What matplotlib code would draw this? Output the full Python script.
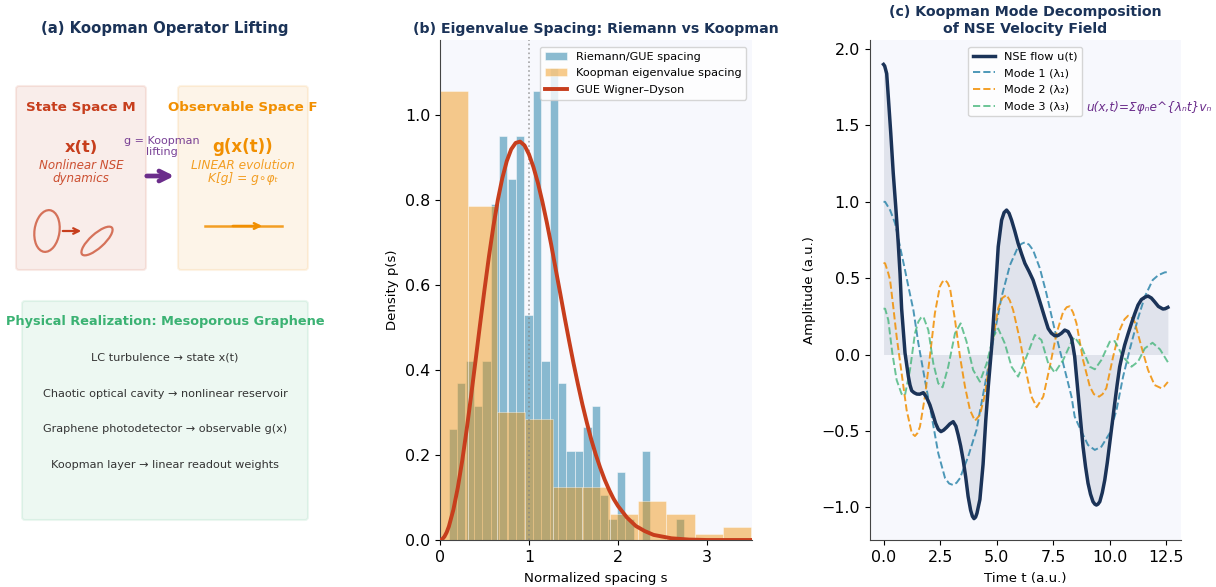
#!/usr/bin/env python3
import matplotlib
matplotlib.use('Agg')
import matplotlib.pyplot as plt
from matplotlib.patches import Ellipse, FancyBboxPatch

# (b) histograms
riemann_left = [0.098, 0.192, 0.287, 0.381, 0.476, 0.570, 0.664, 0.759, 0.853, 0.948,
                1.042, 1.136, 1.231, 1.325, 1.420, 1.514, 1.608, 1.703, 1.797, 1.892,
                1.986, 2.080, 2.175, 2.269, 2.364, 2.458, 2.552, 2.647]
riemann_density = [0.26, 0.37, 0.42, 0.315, 0.42, 0.79, 0.95, 0.85, 0.95, 0.53,
                   1.055, 0.42, 1.11, 0.37, 0.21, 0.21, 0.265, 0.315, 0.105, 0.05,
                   0.16, 0.05, 0.0, 0.21, 0.0, 0.0, 0.0, 0.05]
koopman_left = [0.0, 0.318, 0.636, 0.954, 1.272, 1.590, 1.908, 2.226, 2.544, 2.862, 3.180]
koopman_density = [1.055, 0.785, 0.30, 0.285, 0.125, 0.125, 0.06, 0.092, 0.06, 0.013, 0.03]

gue_s = [0, 0.025, 0.05, 0.075, 0.1, 0.15, 0.2, 0.25, 0.3, 0.35, 0.4, 0.45, 0.5, 0.55, 0.6, 0.65, 0.7,
         0.75, 0.8, 0.85, 0.9, 0.95, 1.0, 1.05, 1.1, 1.15, 1.2, 1.25, 1.3, 1.35, 1.4, 1.45, 1.5, 1.55,
         1.6, 1.65, 1.7, 1.75, 1.8, 1.85, 1.9, 1.95, 2.0, 2.1, 2.2, 2.3, 2.4, 2.6, 2.8, 3.0, 3.5]
gue_p = [0, 0.002, 0.008, 0.018, 0.032, 0.071, 0.123, 0.187, 0.260, 0.340, 0.423, 0.507, 0.589, 0.667,
         0.738, 0.800, 0.851, 0.891, 0.919, 0.934, 0.937, 0.928, 0.907, 0.877, 0.840, 0.796, 0.747,
         0.694, 0.637, 0.581, 0.524, 0.469, 0.416, 0.366, 0.319, 0.276, 0.236, 0.201, 0.170, 0.142,
         0.118, 0.097, 0.080, 0.053, 0.033, 0.021, 0.012, 0.004, 0.001, 0.0, 0.0]

# (c) curves
u_t = [0, 0.05, 0.14, 0.21, 0.32, 0.43, 0.54, 0.65, 0.73, 0.8, 0.95, 1.1, 1.17, 1.245, 1.35, 1.47, 1.6, 1.76,
       1.9, 2.05, 2.18, 2.3, 2.42, 2.54, 2.66, 2.79, 2.93, 3.08, 3.2, 3.3, 3.41, 3.52, 3.63, 3.74, 3.85,
       3.93, 4.0, 4.07, 4.13, 4.26, 4.4, 4.52, 4.63, 4.78, 4.92, 5.0, 5.07, 5.15, 5.22, 5.33, 5.44, 5.55,
       5.66, 5.8, 5.95, 6.1, 6.25, 6.43, 6.61, 6.8, 6.98, 7.13, 7.28, 7.42, 7.57, 7.72, 7.87, 8.01, 8.16,
       8.31, 8.38, 8.45, 8.6, 8.71, 8.82, 8.93, 9.04, 9.15, 9.26, 9.34, 9.41, 9.48, 9.56, 9.67, 9.78, 9.89,
       10.0, 10.11, 10.22, 10.33, 10.44, 10.55, 10.66, 10.81, 10.96, 11.1, 11.25, 11.4, 11.55, 11.69, 11.84,
       11.98, 12.15, 12.35, 12.45, 12.57]
u_vals = [1.9, 1.89, 1.84, 1.69, 1.45, 1.187, 0.968, 0.73, 0.53, 0.3, 0.01, -0.145, -0.2, -0.237, -0.25, -0.259,
          -0.26, -0.25, -0.28, -0.33, -0.39, -0.45, -0.49, -0.505, -0.495, -0.477, -0.455, -0.44, -0.47,
          -0.527, -0.6, -0.69, -0.8, -0.93, -1.02, -1.06, -1.075, -1.065, -1.04, -0.95, -0.72, -0.43, -0.21,
          0.05, 0.357, 0.54, 0.706, 0.8, 0.88, 0.93, 0.946, 0.925, 0.88, 0.81, 0.728, 0.66, 0.597, 0.545, 0.488,
          0.4, 0.313, 0.24, 0.17, 0.14, 0.123, 0.125, 0.14, 0.16, 0.15, 0.106, 0.051, -0.014, -0.254, -0.43,
          -0.604, -0.735, -0.843, -0.915, -0.964, -0.98, -0.986, -0.98, -0.964, -0.905, -0.822, -0.71, -0.58,
          -0.45, -0.32, -0.195, -0.08, -0.005, 0.062, 0.135, 0.204, 0.265, 0.324, 0.36, 0.375, 0.383, 0.37,
          0.346, 0.315, 0.298, 0.3, 0.309]

mode1_t = [0, 0.07, 0.29, 0.51, 0.73, 0.95, 1.1, 1.32, 1.54, 1.83, 2.13, 2.42, 2.72, 2.9, 3.08, 3.23, 3.38, 3.74,
           4.11, 4.48, 4.85, 5.22, 5.59, 5.95, 6.1, 6.25, 6.43, 6.61, 6.91, 7.2, 7.57, 7.94, 8.31, 8.45, 8.75,
           9.04, 9.34, 9.63, 10.0, 10.3, 10.59, 10.88, 11.25, 11.55, 11.9, 12.15, 12.43, 12.57]
mode1_vals = [1.0, 1.0, 0.946, 0.86, 0.706, 0.553, 0.444, 0.291, 0.073, -0.167, -0.407, -0.647, -0.81, -0.845,
              -0.855, -0.84, -0.81, -0.669, -0.494, -0.2, 0.095, 0.379, 0.586, 0.706, 0.725, 0.735, 0.72, 0.684,
              0.565, 0.4, 0.16, -0.058, -0.276, -0.407, -0.505, -0.593, -0.625, -0.604, -0.515, -0.363, -0.145,
              0.03, 0.237, 0.379, 0.488, 0.52, 0.538, 0.54]

mode2_t = [0, 0.07, 0.21, 0.29, 0.43, 0.58, 0.8, 1.02, 1.25, 1.39, 1.5, 1.61, 1.83, 2.05, 2.27, 2.49, 2.6, 2.72, 2.83,
           2.94, 3.16, 3.38, 3.6, 3.82, 4.04, 4.26, 4.48, 4.78, 5.07, 5.25, 5.44, 5.58, 5.73, 6.03, 6.25, 6.54, 6.77,
           7.06, 7.35, 7.65, 7.94, 8.1, 8.23, 8.38, 8.53, 8.82, 9.12, 9.3, 9.53, 9.68, 9.85, 10.15, 10.44, 10.65, 10.81,
           10.95, 11.1, 11.4, 11.69, 11.98, 12.28, 12.4, 12.57]
mode2_vals = [0.6, 0.597, 0.532, 0.488, 0.313, 0.117, -0.123, -0.363, -0.516, -0.534, -0.515, -0.473, -0.276, -0.014,
              0.27, 0.444, 0.475, 0.488, 0.47, 0.433, 0.226, -0.014, -0.21, -0.363, -0.434, -0.396, -0.265, 0.05, 0.303,
              0.37, 0.39, 0.355, 0.291, 0.095, -0.08, -0.276, -0.345, -0.276, -0.08, 0.139, 0.28, 0.31, 0.316, 0.275,
              0.204, -0.036, -0.21, -0.26, -0.276, -0.26, -0.22, -0.014, 0.16, 0.23, 0.254, 0.245, 0.215, 0.051, -0.1,
              -0.2, -0.221, -0.21, -0.18]

mode3_t = [0, 0.07, 0.21, 0.39, 0.58, 0.8, 0.95, 1.17, 1.39, 1.54, 1.65, 1.76, 1.98, 2.2, 2.42, 2.61, 2.86, 3.16,
           3.41, 3.67, 3.96, 4.26, 4.56, 4.85, 5.07, 5.36, 5.66, 5.95, 6.32, 6.69, 6.98, 7.28, 7.57, 7.94, 8.31,
           8.45, 8.75, 9.12, 9.34, 9.63, 10.0, 10.22, 10.59, 10.96, 11.25, 11.55, 11.89, 12.22, 12.57]
mode3_vals = [0.3, 0.3, 0.226, 0.008, -0.167, -0.259, -0.265, -0.101, 0.139, 0.215, 0.24, 0.248, 0.16, -0.058, -0.189,
              -0.215, -0.08, 0.139, 0.204, 0.084, -0.101, -0.178, -0.058, 0.117, 0.17, 0.073, -0.08, -0.145, -0.014,
              0.128, 0.095, -0.058, -0.119, -0.036, 0.084, 0.113, 0.051, -0.08, -0.097, -0.036, 0.084, 0.088, -0.014,
              -0.08, -0.047, 0.04, 0.077, 0.034, -0.05]

realization_lines = ['LC turbulence → state x(t)', 'Chaotic optical cavity → nonlinear reservoir',
                     'Graphene photodetector → observable g(x)', 'Koopman layer → linear readout weights']

NAVY = '#1B3358'
BLUE = '#2E86AB'
ORANGE = '#F18F01'
RED = '#C73E1D'
GREEN = '#3BB273'
PURPLE = '#6B2D8B'
BG = '#F7F8FD'
W, H = 1216, 587

fig = plt.figure(figsize=(W / 100, H / 100), dpi=100)

# (a) schematic, drawn in pixel coordinates of the left part
ax0 = fig.add_axes([0, 0, 330 / W, 1])
ax0.set_xlim(0, 330)
ax0.set_ylim(H, 0)
ax0.axis('off')


def box(x0, y0, x1, y1, color):
    ax0.add_patch(FancyBboxPatch((x0 + 3, y0 + 3), x1 - x0 - 6, y1 - y0 - 6, boxstyle='round,pad=3',
                                 fc=color, ec='none', alpha=0.09))
    ax0.add_patch(FancyBboxPatch((x0 + 3, y0 + 3), x1 - x0 - 6, y1 - y0 - 6, boxstyle='round,pad=3',
                                 fc='none', ec=color, alpha=0.1, lw=1.5))


def label(x, y, s, **kw):
    ax0.text(x, y, s, ha='center', va='center', **kw)


box(16, 86, 146, 270, RED)
box(178, 86, 308, 270, ORANGE)
box(22, 301, 308, 520, GREEN)

label(165, 28, '(a) Koopman Operator Lifting', fontsize=10.7, fontweight='bold', color=NAVY)
label(81, 107, 'State Space M', fontsize=9.7, fontweight='bold', color=RED)
label(81, 147, 'x(t)', fontsize=11.7, fontweight='bold', color=RED)
label(81, 172, 'Nonlinear NSE\ndynamics', fontsize=8.6, style='italic', color=RED, alpha=0.9, linespacing=1.05)
label(243, 107, 'Observable Space F', fontsize=9.6, fontweight='bold', color=ORANGE)
label(243, 147, 'g(x(t))', fontsize=12, fontweight='bold', color=ORANGE)
label(243, 172, 'LINEAR evolution\nK[g] = g∘φₜ', fontsize=8.7, style='italic', color=ORANGE, alpha=0.85, linespacing=1.05)
label(162, 146.5, 'g = Koopman\nlifting', fontsize=8, color=PURPLE, alpha=0.9, linespacing=1.15)
ax0.annotate('', xy=(177, 176), xytext=(144, 176),
             arrowprops=dict(arrowstyle='->', color=PURPLE, lw=3.4, mutation_scale=18))
ax0.add_patch(Ellipse((47, 231), 25, 42, angle=8, fc='none', ec=RED, alpha=0.7, lw=1.6))
ax0.add_patch(Ellipse((97, 241), 40, 14, angle=-42, fc='none', ec=RED, alpha=0.7, lw=1.6))
ax0.annotate('', xy=(84, 231), xytext=(60, 231), arrowprops=dict(arrowstyle='->', color=RED, lw=1.6))
ax0.plot([205, 282], [226, 226], color=ORANGE, lw=1.8, alpha=0.85)
ax0.annotate('', xy=(265, 226), xytext=(230, 226), arrowprops=dict(arrowstyle='->', color=ORANGE, lw=1.8))
label(165, 322, 'Physical Realization: Mesoporous Graphene', fontsize=9.25, fontweight='bold', color=GREEN)
for y, line in zip([357, 394, 429, 465], realization_lines):
    label(165, y, line, fontsize=8.1, color='#333333')


def panel(x0, x1):
    ax = fig.add_axes([x0 / W, (H - 540) / H, (x1 - x0) / W, 500 / H])
    ax.set_facecolor(BG)
    ax.spines['top'].set_visible(False)
    ax.spines['right'].set_visible(False)
    ax.spines['left'].set_color('#444444')
    ax.spines['bottom'].set_color('#444444')
    ax.tick_params(labelsize=11.4)
    return ax


# (b) spacing histograms
ax1 = panel(440, 751.5)
ax1.plot(gue_s, gue_p, color=RED, lw=2.8, label='GUE Wigner–Dyson', zorder=3)
ax1.bar(riemann_left, riemann_density, 0.0944, align='edge', color=BLUE, alpha=0.55, ec='white', lw=0.6,
        label='Riemann/GUE spacing')
ax1.bar(koopman_left, koopman_density, 0.318, align='edge', color=ORANGE, alpha=0.45, ec='white', lw=0.6,
        label='Koopman eigenvalue spacing')
ax1.axvline(1.0, color='gray', ls=':', lw=1.2, alpha=0.7)
ax1.set_xlim(0, 3.5)
ax1.set_ylim(0, 1.176)
ax1.set_xticks([0, 1, 2, 3])
ax1.set_yticks([0.0, 0.2, 0.4, 0.6, 0.8, 1.0])
ax1.set_xlabel('Normalized spacing s', fontsize=9.6, labelpad=5.5)
ax1.set_ylabel('Density p(s)', fontsize=9.5)
ax1.set_title('(b) Eigenvalue Spacing: Riemann vs Koopman', fontsize=10.2, fontweight='bold', color=NAVY, pad=5)
handles, labels = ax1.get_legend_handles_labels()
ax1.legend(handles[1:] + handles[:1], labels[1:] + labels[:1], loc='upper right', fontsize=8.1, labelspacing=0.6,
           bbox_to_anchor=(0.983, 0.986), borderaxespad=0)

# (c) mode decomposition
ax2 = panel(869.5, 1181)
ax2.plot(u_t, u_vals, color=NAVY, lw=2.5, label='NSE flow u(t)', solid_joinstyle='round', zorder=4)
ax2.plot(mode1_t, mode1_vals, color=BLUE, lw=1.4, ls='--', alpha=0.85, label='Mode 1 (λ₁)')
ax2.plot(mode2_t, mode2_vals, color=ORANGE, lw=1.4, ls='--', alpha=0.85, label='Mode 2 (λ₂)')
ax2.plot(mode3_t, mode3_vals, color=GREEN, lw=1.4, ls='--', alpha=0.75, label='Mode 3 (λ₃)')
ax2.fill_between(u_t, u_vals, 0, color=NAVY, alpha=0.1, lw=0)
ax2.set_xlim(-0.62, 13.15)
ax2.set_ylim(-1.215, 2.06)
ax2.set_xticks([0.0, 2.5, 5.0, 7.5, 10.0, 12.5])
ax2.set_yticks([-1.0, -0.5, 0.0, 0.5, 1.0, 1.5, 2.0])
ax2.set_xlabel('Time t (a.u.)', fontsize=9.6, labelpad=5.5)
ax2.set_ylabel('Amplitude (a.u.)', fontsize=9.5)
ax2.set_title('(c) Koopman Mode Decomposition\nof NSE Velocity Field', fontsize=10.2, fontweight='bold', color=NAVY,
              pad=5, linespacing=1.25)
ax2.legend(loc='upper center', fontsize=8.1, labelspacing=0.6, bbox_to_anchor=(0.5, 0.986), borderaxespad=0)
ax2.text(8.98, 1.62, 'u(x,t)=Σφₙe^{λₙt}vₙ', fontsize=8.7, style='italic', color=PURPLE, va='center', clip_on=False)

fig.savefig('out.png', dpi=100)
